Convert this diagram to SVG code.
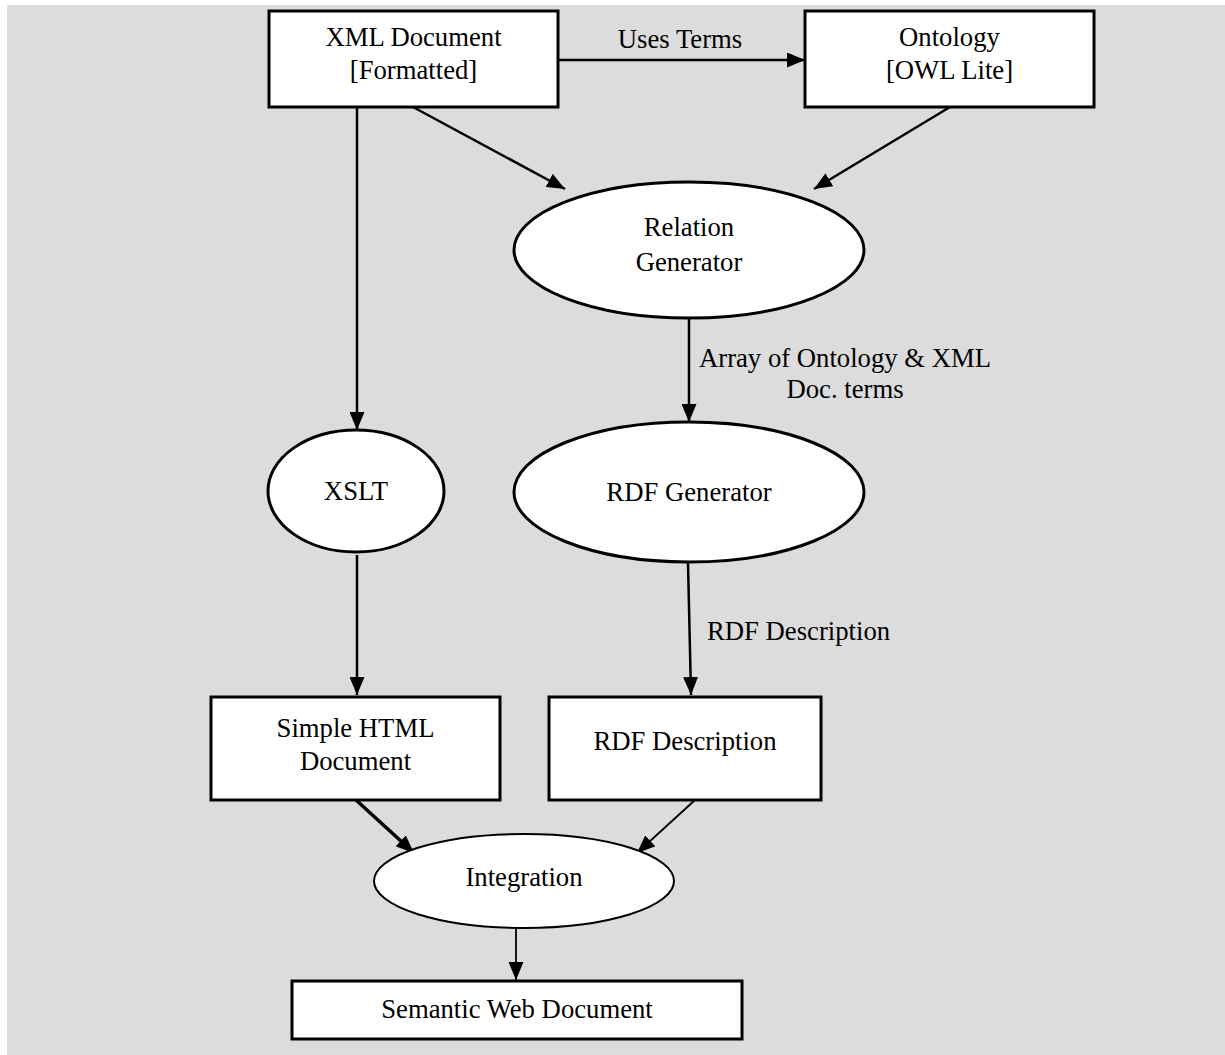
<svg xmlns="http://www.w3.org/2000/svg" width="1225" height="1055" viewBox="0 0 1225 1055">
<style>
.bg{fill:#dcdcdc}
.box{fill:#fff;stroke:#000;stroke-width:3}
.ell{fill:#fff;stroke:#000;stroke-width:3}
.ell2{fill:#fff;stroke:#000;stroke-width:2}
.t{font-family:"Liberation Serif","Times New Roman",serif;font-size:26.7px;fill:#000;text-anchor:middle}
.ts{text-anchor:start}
.ln{stroke:#000;stroke-width:2.5;fill:none;marker-end:url(#ah)}
.thin{stroke-width:1.8}
.thick{stroke-width:3.5}
</style>
<defs>
<marker id="ah" markerUnits="userSpaceOnUse" markerWidth="18" markerHeight="15" refX="18" refY="7.5" orient="auto">
<path d="M0,0 L18,7.5 L0,15 z" fill="#000"/>
</marker>
</defs>
<rect class="bg" x="7" y="5" width="1218" height="1050"/>
<g id="connectors">
<line class="ln" x1="558" y1="60" x2="805" y2="60"/>
<text class="t" x="680" y="48">Uses Terms</text>
<line class="ln" x1="413" y1="107" x2="565" y2="189"/>
<line class="ln" x1="950" y1="107" x2="814" y2="189"/>
<line class="ln" x1="357" y1="107" x2="357" y2="430"/>
<line class="ln" x1="689" y1="318" x2="689" y2="422"/>
<text class="t" x="845" y="367">Array of Ontology &amp; XML</text>
<text class="t" x="845" y="398">Doc. terms</text>
<line class="ln" x1="357" y1="555" x2="357" y2="695"/>
<line class="ln" x1="688" y1="563" x2="691" y2="695"/>
<text class="t ts" x="707" y="640">RDF Description</text>
<line class="ln thick" x1="356" y1="800" x2="414" y2="853"/>
<line class="ln thin" x1="695" y1="800" x2="637" y2="853"/>
<line class="ln thin" x1="516" y1="928" x2="516" y2="980"/>
</g>
<g id="xml-document">
<rect class="box" x="269" y="11" width="289" height="96"/>
<text class="t" x="413.5" y="46">XML Document</text>
<text class="t" x="413.5" y="79">[Formatted]</text>
</g>
<g id="ontology">
<rect class="box" x="805" y="11" width="289" height="96"/>
<text class="t" x="949.5" y="46">Ontology</text>
<text class="t" x="949.5" y="79">[OWL Lite]</text>
</g>
<g id="relation-generator">
<ellipse class="ell" cx="689" cy="250" rx="175" ry="68"/>
<text class="t" x="689" y="236">Relation</text>
<text class="t" x="689" y="271">Generator</text>
</g>
<g id="xslt">
<ellipse class="ell" cx="356" cy="491" rx="88" ry="61"/>
<text class="t" x="356" y="500">XSLT</text>
</g>
<g id="rdf-generator">
<ellipse class="ell" cx="689" cy="492" rx="175" ry="70"/>
<text class="t" x="689" y="501">RDF Generator</text>
</g>
<g id="simple-html">
<rect class="box" x="211" y="697" width="289" height="103"/>
<text class="t" x="355.5" y="737">Simple HTML</text>
<text class="t" x="355.5" y="770">Document</text>
</g>
<g id="rdf-description">
<rect class="box" x="549" y="697" width="272" height="103"/>
<text class="t" x="685" y="750">RDF Description</text>
</g>
<g id="integration">
<ellipse class="ell2" cx="524" cy="881" rx="150" ry="47"/>
<text class="t" x="524" y="886">Integration</text>
</g>
<g id="semantic-web-document">
<rect class="box" x="292" y="981" width="450" height="58"/>
<text class="t" x="517" y="1018">Semantic Web Document</text>
</g>
</svg>
